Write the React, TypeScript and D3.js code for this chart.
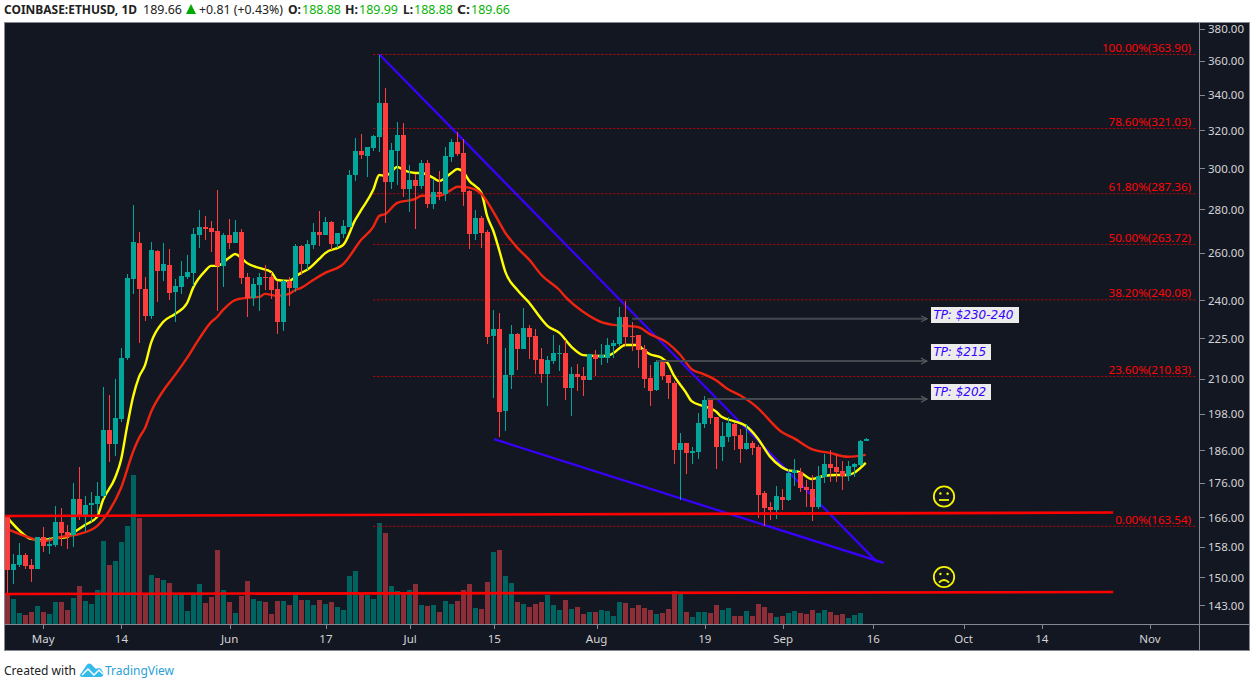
import React from "react";
import * as d3 from "d3";

const opens = [
  166.1,151.9,153.2,155.8,153.2,152.1,160.6,158.2,158.4,164.7,
  162.0,161.2,171.3,166.4,169.6,169.8,172.2,192.6,188.0,196.2,
  217.6,248.7,264.4,244.6,233.6,260.8,252.1,254.7,243.3,245.4,
  249.6,251.3,268.0,271.7,271.2,269.8,254.3,268.0,264.4,269.4,
  249.6,240.9,246.2,249.6,249.6,244.6,231.2,247.9,245.0,263.1,
  255.1,263.5,269.4,268.0,274.0,264.0,268.5,271.7,296.7,309.0,
  306.4,310.6,316.4,335.2,293.2,309.0,317.5,289.8,294.2,291.2,
  302.8,282.5,288.3,287.3,305.9,313.8,308.0,288.8,268.5,275.9,
  269.4,225.8,228.5,198.9,211.4,226.6,220.9,228.9,225.8,217.2,
  211.7,216.4,219.0,219.4,206.8,211.7,211.0,209.6,218.6,217.6,
  217.6,222.0,222.8,233.2,225.8,226.2,220.9,210.3,206.1,216.4,
  211.4,208.5,186.1,188.4,185.2,185.5,194.5,202.6,196.9,187.1,
  190.3,194.5,190.9,186.4,188.4,187.1,173.1,169.0,168.1,171.9,
  171.0,179.0,179.3,174.8,174.2,169.0,177.8,181.8,180.8,179.6,
  178.1,180.8,181.5,188.88,
];
const closes = [
  151.9,153.4,155.8,152.9,152.1,160.6,158.2,158.7,164.7,161.7,
  161.2,171.3,166.4,169.6,170.1,172.2,192.6,188.0,196.5,217.6,
  249.2,264.8,244.6,233.6,261.3,252.1,255.1,242.9,245.8,250.0,
  251.7,268.5,271.7,270.8,269.4,254.3,268.0,264.4,269.4,249.2,
  240.9,246.6,249.6,249.2,244.1,231.2,247.9,245.0,263.1,255.1,
  264.0,269.4,268.0,274.0,264.0,268.9,272.2,296.7,309.0,306.9,
  311.1,316.9,335.2,293.2,309.6,317.5,289.8,294.2,291.2,302.8,
  282.5,288.3,287.3,306.4,313.8,307.4,288.3,268.5,275.9,268.9,
  225.4,228.5,198.5,211.4,226.6,220.9,228.9,225.4,216.8,211.7,
  216.8,219.4,219.4,206.8,211.7,210.7,209.6,219.0,217.2,218.6,
  222.4,223.2,233.2,225.4,225.4,220.5,210.0,205.7,216.1,211.0,
  208.5,186.1,188.4,185.2,185.8,194.9,202.6,196.5,187.1,190.6,
  194.9,190.6,186.4,188.4,186.8,172.5,168.7,168.1,172.2,171.0,
  179.0,179.9,174.5,173.9,169.0,178.1,181.8,180.5,179.3,178.1,
  181.2,181.8,189.0,189.66,
];
const highs = [
  166.7,156.0,159.0,156.3,154.7,160.6,163.3,160.6,169.3,168.7,
  163.9,176.0,180.8,172.2,173.3,176.3,207.1,204.3,210.0,221.3,
  250.9,282.0,269.4,249.6,264.8,261.3,264.4,261.7,248.7,256.5,
  259.1,271.2,279.6,276.8,274.4,289.3,268.9,275.4,274.9,270.8,
  251.3,249.2,251.3,254.7,251.7,247.9,248.3,249.6,264.0,263.5,
  265.8,273.5,279.1,276.3,274.4,268.9,274.9,299.2,315.9,318.1,
  311.1,317.5,363.9,343.9,313.3,324.6,324.0,301.8,297.2,304.4,
  304.4,294.7,298.7,311.1,315.4,319.2,315.4,289.3,279.6,276.8,
  270.3,236.0,234.8,221.3,230.1,227.0,236.8,230.1,228.5,221.3,
  218.3,226.2,222.4,224.3,214.3,215.3,214.3,219.0,220.5,222.8,
  225.1,224.3,237.2,239.6,231.2,226.2,222.4,215.0,216.8,216.8,
  211.4,209.2,191.6,188.4,187.1,198.2,204.0,203.0,196.9,195.2,
  196.9,194.9,192.9,194.5,189.0,187.7,173.6,170.4,175.1,174.2,
  180.2,183.3,180.5,176.9,178.4,181.2,184.9,186.1,184.6,182.7,
  182.7,182.1,189.3,189.99,
];
const lows = [
  145.8,148.3,152.6,152.1,148.8,152.1,156.6,156.0,157.9,158.2,
  157.4,157.9,165.3,162.0,164.7,167.3,171.6,182.4,184.2,195.2,
  216.8,242.5,223.2,231.6,232.4,239.2,247.9,240.0,231.2,242.5,
  248.7,245.8,262.2,265.8,260.4,235.6,245.4,261.7,264.4,246.6,
  233.2,237.6,235.6,244.1,240.5,226.6,227.8,237.6,243.3,250.4,
  252.6,261.7,263.1,268.0,261.3,262.2,266.7,271.7,293.7,304.9,
  295.7,309.0,308.5,273.5,289.8,291.7,286.0,278.7,270.8,289.8,
  280.6,280.1,284.4,283.9,303.3,306.4,281.5,261.7,265.8,262.2,
  222.8,203.3,190.3,192.2,206.4,213.2,220.9,217.2,211.7,208.5,
  200.5,215.3,212.8,202.6,197.2,205.7,204.0,209.6,211.0,215.0,
  215.7,217.6,222.0,222.0,220.1,213.9,206.8,200.5,205.7,209.6,
  203.0,181.8,171.0,178.7,181.8,183.3,193.2,194.5,180.2,182.7,
  188.7,186.1,182.1,186.1,184.6,165.9,163.6,165.3,165.6,168.1,
  170.7,175.1,173.3,169.0,165.0,168.4,176.0,176.3,176.3,173.9,
  176.6,177.8,181.2,188.88,
];
const volumes = [
  30,25,11,9,12,18,12,10,22,22,
  14,26,38,23,20,34,83,59,63,82,
  98,149,106,30,49,46,44,41,29,29,
  13,29,40,21,27,74,34,22,11,28,
  43,25,23,22,10,23,23,19,29,24,
  24,19,24,20,22,17,14,48,53,31,
  29,25,101,91,38,33,31,34,40,19,
  18,19,12,23,20,23,34,40,16,15,
  42,72,74,48,41,22,20,17,20,22,
  29,19,14,24,15,17,10,12,12,14,
  13,8,22,21,16,19,16,14,10,11,
  15,33,30,12,7,12,12,11,19,14,
  16,8,8,13,8,20,17,11,7,8,
  11,13,11,10,14,11,14,12,9,10,
  6,9,11,0,
];

const fastMaIndex = [0,2,4,6,8,10,11,13,15,16,18,19,20,21,22,23,24,26,28,30,31,33,34,35,37,38,39,40,42,44,45,47,48,49,50,52,53,56,58,59,61,62,63,64,65,66,68,69,71,72,74,75,76,77,79,80,81,82,83,85,87,89,90,92,94,96,98,100,101,103,105,106,107,109,110,111,113,114,116,118,119,121,123,124,125,127,129,130,132,134,136,138,140,141,143];
const fastMa = [166.1,162.5,160.1,159.8,160.3,160.6,161.7,163.9,166.1,171.0,177.5,183.0,193.5,203.6,210.7,214.9,223.2,231.2,234.4,238.8,245.0,252.1,254.3,254.3,257.8,259.5,257.8,255.5,253.4,251.7,248.3,247.9,249.6,251.3,252.6,257.3,259.9,263.5,274.9,279.6,289.3,296.7,296.2,298.2,300.8,299.2,297.7,297.7,295.2,293.7,297.7,299.7,298.2,293.7,287.8,276.4,269.8,260.9,251.7,244.1,238.8,232.4,229.7,227.0,221.7,218.6,218.3,218.3,219.4,222.4,222.4,220.5,219.0,217.6,215.7,211.4,205.4,202.2,200.5,198.8,196.9,195.5,193.9,192.2,189.9,184.2,180.8,179.9,179.3,177.2,178.1,178.4,178.4,179.0,182.1];

const slowMaIndex = [0,4,6,9,12,15,17,19,21,22,23,24,26,28,30,32,34,35,36,38,40,42,43,45,47,48,49,51,53,56,59,61,62,63,65,68,69,72,74,75,77,79,81,83,85,87,89,92,93,96,99,101,105,107,110,112,114,116,118,120,122,124,125,129,131,134,137,140,143];
const slowMa = [162.8,160.3,159.5,160.6,161.4,163.6,167.8,174.5,185.5,189.9,193.2,198.5,205.7,211.4,217.6,224.7,231.2,233.2,236.0,240.0,240.9,241.3,242.5,241.7,242.5,244.1,245.0,248.3,251.3,255.1,265.8,271.7,276.8,277.7,283.0,284.9,286.4,286.4,289.3,290.8,290.3,287.3,278.7,268.9,262.2,256.9,250.4,244.1,241.3,235.2,231.2,230.1,229.3,226.6,223.2,219.0,213.5,211.7,209.6,206.4,204.3,201.6,199.9,191.9,189.9,186.4,185.2,184.0,184.6];

const priceTicks = [380,360,340,320,300,280,260,240,225,210,198,186,176,166,158,150,143];
const timeTickDates = ["2019-05-01","2019-05-14","2019-06-01","2019-06-17","2019-07-01","2019-07-15","2019-08-01","2019-08-19","2019-09-01","2019-09-16","2019-10-01","2019-10-14","2019-11-01"];
const timeTickLabels = ["May","14","Jun","17","Jul","15","Aug","19","Sep","16","Oct","14","Nov"];

const fibRatios = ["100.00%","78.60%","61.80%","50.00%","38.20%","23.60%","0.00%"];
const fibPrices = [363.90,321.03,287.36,263.72,240.08,210.83,163.54];

const trendDown = [{ i: 62, p: 364.0 }, { i: 144.9, p: 153.9 }];
const trendLow = [{ i: 81.1, p: 189.6 }, { i: 146.0, p: 153.7 }];
const supportA = [{ i: -0.4, p: 166.4 }, { i: 184.2, p: 167.4 }];
const supportB = [{ i: -0.4, p: 145.8 }, { i: 184.2, p: 146.3 }];

const tpLabels = ["TP: $230-240", "TP: $215", "TP: $202"];
const tpPrices = [232.5, 216.4, 202.9];
const tpStartIndex = [104.1, 108.2, 116.6];
const tpEndIndex = 153.2;

const start = Date.UTC(2019, 3, 25);
const DAY = 86400000;
const xTime = d3.scaleUtc().domain([new Date(start), new Date(Date.UTC(2019, 10, 1))]).range([6.9, 1148]);
const xTicks = d3.scaleUtc().domain([new Date(Date.UTC(2019, 4, 1)), new Date(Date.UTC(2019, 10, 1))]).range([43.2, 1150]);
const xi = (i: number) => xTime(new Date(start + i * DAY));
const y = d3.scaleLog().domain([163.54, 363.9]).range([526.3, 54.5]);
const yVol = d3.scaleLinear().domain([0, 149]).range([624, 475]);

const BG = "#131722";
const UP = "#00a79a";
const DOWN = "#ff3d3d";
const UP_VOL = "#00635f";
const DOWN_VOL = "#8b2e38";
const AXIS = "#868993";
const AXT = "#d3d4d7";
const FONT = "'Noto Sans', sans-serif";

const line = (xs: number[], vs: number[]) =>
  d3.line<number>().x((_, k) => xi(xs[k])).y((v) => y(v)).curve(d3.curveMonotoneX)(vs) as string;

const seg = (a: { i: number; p: number }[]) => ({ x1: xi(a[0].i), y1: y(a[0].p), x2: xi(a[1].i), y2: y(a[1].p) });

function Smiley({ cx, cy, sad }: { cx: number; cy: number; sad: boolean }) {
  const c = "#f4f400";
  return (
    <g fill="none" stroke={c} strokeWidth={1.8}>
      <circle cx={cx} cy={cy} r={10.2} />
      <circle cx={cx - 3.6} cy={cy - 3} r={1.2} fill={c} stroke="none" />
      <circle cx={cx + 3.6} cy={cy - 3} r={1.2} fill={c} stroke="none" />
      {sad ? (
        <path d={`M${cx - 5},${cy + 5.5} Q${cx},${cy + 0.5} ${cx + 5},${cy + 5.5}`} />
      ) : (
        <line x1={cx - 5} x2={cx + 5} y1={cy + 3.5} y2={cy + 3.5} />
      )}
    </g>
  );
}

export default function App() {
  const header = [
    { x: 4, t: "COINBASE:ETHUSD, 1D", w: 700, c: "#222", len: 133, fs: 12.2 },
    { x: 143, t: "189.66", w: 400, c: "#222", len: 39, fs: 13 },
    { x: 199, t: "+0.81 (+0.43%)", w: 400, c: "#222", len: 84, fs: 12.6 },
    { x: 288, t: "O:", w: 700, c: "#222", len: 13, fs: 13 },
    { x: 302, t: "188.88", w: 400, c: "#09b309", len: 39, fs: 13 },
    { x: 345, t: "H:", w: 700, c: "#222", len: 13, fs: 13 },
    { x: 359, t: "189.99", w: 400, c: "#09b309", len: 39, fs: 13 },
    { x: 403, t: "L:", w: 700, c: "#222", len: 10, fs: 13 },
    { x: 414, t: "188.88", w: 400, c: "#09b309", len: 39, fs: 13 },
    { x: 457, t: "C:", w: 700, c: "#222", len: 13, fs: 13 },
    { x: 471, t: "189.66", w: 400, c: "#09b309", len: 39, fs: 13 },
  ];
  return (
    <svg width={1256} height={683} style={{ position: "fixed", left: 0, top: 0, background: "#fff" }} fontFamily={FONT}>
      <defs>
        <clipPath id="plot"><rect x={5} y={23} width={1194} height={601} /></clipPath>
        <marker id="arr" viewBox="0 0 8 8" refX={7} refY={4} markerWidth={8} markerHeight={8} markerUnits="userSpaceOnUse" orient="auto">
          <path d="M1,1 L7,4 L1,7" fill="none" stroke="#55585f" strokeWidth={1.2} />
        </marker>
      </defs>

      {header.map((h, k) => (
        <text key={k} x={h.x} y={14} fontSize={h.fs} fontWeight={h.w} fill={h.c} textLength={h.len} lengthAdjust="spacingAndGlyphs">{h.t}</text>
      ))}
      <path d="M186,14 L191,4 L196,14 Z" fill="#00a800" />

      <rect x={4.5} y={22.5} width={1245} height={628} fill={BG} stroke={AXIS} strokeWidth={1} />
      <line x1={1199.5} x2={1199.5} y1={22} y2={651} stroke={AXIS} />
      <line x1={4} x2={1249} y1={624.5} y2={624.5} stroke={AXIS} />

      {priceTicks.map((p) => (
        <g key={p}>
          <line x1={1200} x2={1205} y1={Math.round(y(p)) + 0.5} y2={Math.round(y(p)) + 0.5} stroke={AXIS} />
          <text x={1208} y={y(p) + 4.5} fontSize={11.5} fill={AXT}>{p.toFixed(2)}</text>
        </g>
      ))}
      {timeTickDates.map((d, k) => {
        const tx = xTicks(new Date(d + "T00:00:00Z"));
        return (
          <g key={d}>
            <line x1={Math.round(tx) + 0.5} x2={Math.round(tx) + 0.5} y1={624} y2={629} stroke={AXIS} />
            <text x={tx} y={643} fontSize={11.5} fill={AXT} textAnchor="middle">{timeTickLabels[k]}</text>
          </g>
        );
      })}

      <g clipPath="url(#plot)">
        <g shapeRendering="crispEdges">
          {volumes.map((v, i) => {
            const c = Math.round(xi(i));
            return <rect key={i} x={c - 2} width={5} y={yVol(v)} height={624 - yVol(v)} fill={closes[i] >= opens[i] ? UP_VOL : DOWN_VOL} />;
          })}
        </g>
        {fibPrices.map((p) => (
          <line key={p} x1={373} x2={1197} y1={y(p)} y2={y(p)} stroke="#a30a0a" strokeWidth={1} strokeDasharray="2.5 1.5" />
        ))}
        <line {...seg(trendDown)} stroke="#3a00ff" strokeWidth={2.2} />
        <line {...seg(trendLow)} stroke="#3a00ff" strokeWidth={2.2} />
        <path d={line(fastMaIndex, fastMa)} fill="none" stroke="#ffff00" strokeWidth={2.4} strokeLinejoin="round" />
        <path d={line(slowMaIndex, slowMa)} fill="none" stroke="#ef2410" strokeWidth={2.4} strokeLinejoin="round" />
        <g shapeRendering="crispEdges">
          {opens.map((o, i) => {
            const c = Math.round(xi(i));
            const col = closes[i] >= o ? UP : DOWN;
            const top = Math.round(y(Math.max(o, closes[i])));
            const bot = Math.round(y(Math.min(o, closes[i])));
            return (
              <g key={i}>
                <rect x={c} width={1} y={y(highs[i])} height={y(lows[i]) - y(highs[i])} fill={col} />
                <rect x={c - 2} width={5} y={top} height={Math.max(1, bot - top)} fill={col} />
              </g>
            );
          })}
        </g>
        {tpPrices.map((p, k) => (
          <line key={k} x1={xi(tpStartIndex[k])} x2={xi(tpEndIndex)} y1={y(p)} y2={y(p)} stroke="#45484f" strokeWidth={2} markerEnd="url(#arr)" />
        ))}
        <line {...seg(supportA)} stroke="#ff0000" strokeWidth={2.6} />
        <line {...seg(supportB)} stroke="#ff0000" strokeWidth={2.6} />
      </g>

      {fibPrices.map((p, k) => (
        <text key={p} x={1191} y={y(p) - 2.5} textAnchor="end" fontSize={11.6} fill="#ff0505">{`${fibRatios[k]}(${p.toFixed(2)})`}</text>
      ))}

      {tpLabels.map((t, k) => (
        <g key={t}>
          <rect x={931} y={[307, 344, 384][k]} width={[88, 60, 60][k]} height={16} fill="#ececec" />
          <text x={933.5} y={[307, 344, 384][k] + 12} fontSize={12} fontStyle="italic" fontFamily="'DejaVu Sans', sans-serif" fill="#3300ff">{t}</text>
        </g>
      ))}

      <Smiley cx={944} cy={496.5} sad={false} />
      <Smiley cx={944} cy={577} sad={true} />

      <text x={4} y={675} fontSize={13} fill="#222" textLength={72} lengthAdjust="spacingAndGlyphs">Created with</text>
      <path d="M80,675 Q80,674 82,672 L86,666 Q88,662.5 91,664 L96,669 Q99,667 101,669 L103,672 Q104.5,677 100,677 L83,677 Q80,677 80,675 Z" fill="#35bbe9" />
      <path d="M82,675 L88,669 L94,675 L99,670 L103,674" fill="none" stroke="#fff" strokeWidth={1.5} />
      <text x={105} y={675} fontSize={13} fill="#2a9fd6" textLength={69} lengthAdjust="spacingAndGlyphs">TradingView</text>
    </svg>
  );
}
